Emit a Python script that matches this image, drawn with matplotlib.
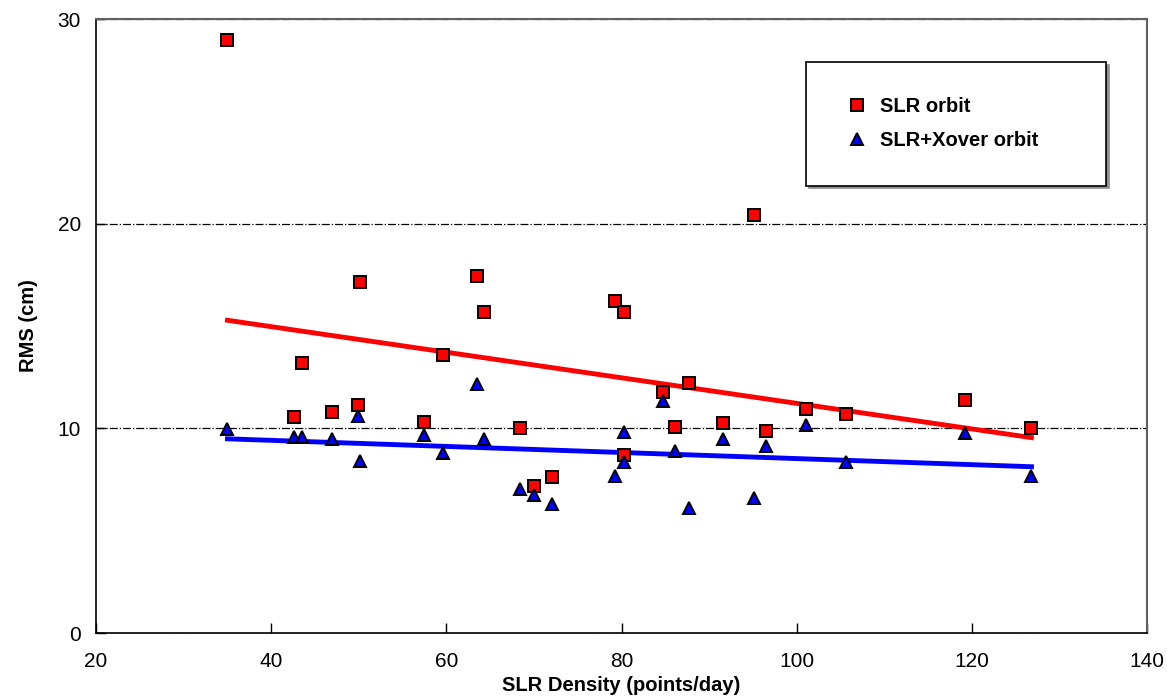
import numpy as np
import matplotlib
matplotlib.use("Agg")
import matplotlib.pyplot as plt

plt.rcParams['font.family'] = ['Liberation Sans', 'DejaVu Sans']

# SLR density (points/day), one value per arc
density = [35.0, 42.6, 43.5, 46.9, 49.9, 50.1, 57.5, 59.6, 63.5, 64.3,
           68.4, 70.0, 72.1, 79.3, 80.3, 80.3, 84.7, 86.1, 87.7, 91.6,
           95.1, 96.5, 101.1, 105.6, 119.2, 126.8]

# RMS (cm) for SLR only orbit
rms_slr = [28.95, 10.55, 13.2, 10.8, 11.15, 17.15, 10.3, 13.6, 17.45, 15.7,
           10.0, 7.18, 7.6, 16.2, 15.7, 8.7, 11.8, 10.05, 12.2, 10.25,
           20.4, 9.87, 10.95, 10.7, 11.4, 10.0]

# RMS (cm) for SLR + crossover orbit
rms_xover = [9.95, 9.57, 9.6, 9.5, 10.6, 8.4, 9.67, 8.8, 12.16, 9.48,
             7.03, 6.74, 6.3, 7.67, 9.82, 8.35, 11.33, 8.9, 6.1, 9.48,
             6.6, 9.13, 10.16, 8.35, 9.77, 7.67]

x = np.array(density)
xl = np.array([min(density), max(density)])
fit_slr = np.polyfit(x, rms_slr, 1)
fit_xov = np.polyfit(x, rms_xover, 1)

fig = plt.figure(figsize=(11.67, 6.96), dpi=100)
ax = fig.add_axes([0.0823, 0.0905, 0.9006, 0.8822])

ax.plot(xl, np.polyval(fit_slr, xl), color='#ff0000', lw=3.5, zorder=2)
ax.plot(xl, np.polyval(fit_xov, xl), color='#0000ff', lw=3.5, zorder=2)

ax.plot(density, rms_slr, 's', ms=9, mfc='#ff0000', mec='black', mew=1.4,
        label='SLR orbit', zorder=3)
ax.plot(density, rms_xover, '^', ms=8.5, mfc='#0000ff', mec='black', mew=1.4,
        label='SLR+Xover orbit', zorder=3)

ax.set_xlim(20, 140)
ax.set_ylim(0, 30)
ax.set_xticks(range(20, 141, 20))
ax.set_yticks([0, 10, 20, 30])
ax.tick_params(direction='in', length=7.5, width=1, labelsize=15, pad=11)
ax.tick_params(axis='x', pad=14)
ax.yaxis.grid(True, linestyle='-.', color='black', lw=0.9)
ax.set_axisbelow(True)

for s in ['left', 'bottom']:
    ax.spines[s].set_linewidth(1.2)
for s in ['top', 'right']:
    ax.spines[s].set_color('#606060')
    ax.spines[s].set_linewidth(1.5)

ax.set_xlabel('SLR Density (points/day)', fontsize=14.5, fontweight='bold', labelpad=3)
ax.set_ylabel('RMS (cm)', fontsize=14.5, fontweight='bold', labelpad=14)

leg = ax.legend(loc='upper left', bbox_to_anchor=(0.6755, 0.728, 0.2854, 0.202),
                mode='expand', frameon=True,
                fancybox=False, shadow={'color': '#909090', 'alpha': 1},
                edgecolor='black', prop={'size': 14.5, 'weight': 'bold'},
                borderpad=1.75, labelspacing=0.75, handletextpad=0.3,
                borderaxespad=0, handlelength=1.6)
leg.get_frame().set_linewidth(1.2)

fig.savefig('out.png', dpi=100)
